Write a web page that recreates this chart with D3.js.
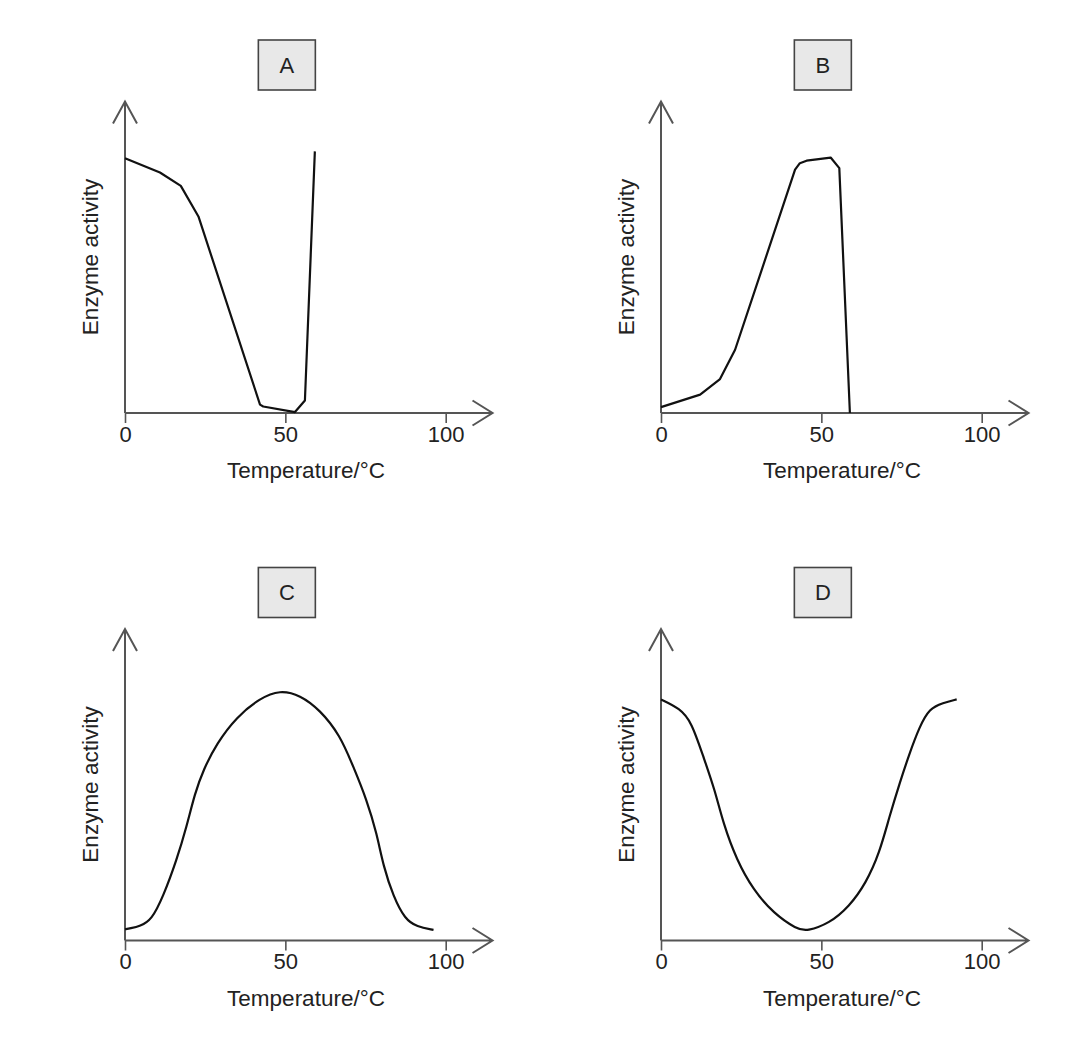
<!DOCTYPE html>
<html>
<head>
<meta charset="utf-8">
<script src="https://cdn.jsdelivr.net/npm/d3@7"></script>
<style>
  body { margin: 0; background: #fff; }
  svg { display: block; font-family: "Liberation Sans", Arial, sans-serif; }
</style>
</head>
<body>
<script>
// values (temperature in °C, activity in arbitrary units 0-100)
const tempA = [0, 10.9, 17.4, 22.9, 42.1, 43.1, 53, 56.1, 59.2];
const actA  = [81.8, 77.2, 72.9, 63.1, 2.7, 2.1, 0.3, 4.0, 84];

const tempB = [0, 12.2, 18.4, 23.1, 41.8, 43.3, 45.4, 52.9, 55.6, 58.9];
const actB  = [1.9, 5.9, 10.9, 20.3, 78.1, 80.2, 81, 82, 78.6, 0];

const tempC = [0, 1.6, 4.7, 8.3, 11.9, 16.1, 19.2, 21.8, 24.4, 28.6, 34.8, 42.1, 48.3, 54.6, 60.8, 67.0, 71.2, 75.4, 78.5, 80.6, 83.7, 87.3, 91, 96.2];
const actC  = [3.6, 3.9, 4.6, 6.6, 14.1, 25.8, 36.5, 47.3, 54.7, 63.3, 71.8, 77.8, 80.4, 78.8, 74, 66, 55.8, 45.1, 34.4, 23.7, 14.1, 6.8, 4.4, 3.4];

const tempD = [0, 5.9, 9.5, 13.2, 16.8, 19.4, 23.6, 28.8, 35.1, 42.4, 45.5, 52.5, 58.7, 63.9, 68.1, 71.2, 74.4, 77.5, 80.6, 83.7, 87.9, 92.2];
const actD  = [77.4, 74.5, 70.2, 59, 48.3, 37.6, 25.8, 16.2, 8.7, 3.6, 3.0, 5.5, 10.9, 18.4, 28, 39.7, 50.5, 60.1, 68.6, 74.5, 76.3, 77.4];

const panelLabels = ["A", "B", "C", "D"];
const xTicks = [0, 50, 100];
const xTitle = "Temperature/°C";
const yTitle = "Enzyme activity";

const width = 1088, height = 1051;

const svg = d3.select("body").append("svg")
  .attr("width", width)
  .attr("height", height)
  .attr("viewBox", [0, 0, width, height]);

// panel origins (where the axes meet)
const panels = [
  {label: panelLabels[0], x0: 125, y0: 413, t: tempA, a: actA, smooth: false},
  {label: panelLabels[1], x0: 661, y0: 413, t: tempB, a: actB, smooth: false},
  {label: panelLabels[2], x0: 125, y0: 940.5, t: tempC, a: actC, smooth: true},
  {label: panelLabels[3], x0: 661, y0: 940.5, t: tempD, a: actD, smooth: true}
];

const axisColor = "#555";
const plotW = 320.7, plotH = 311.5;

panels.forEach(p => {
  const g = svg.append("g").attr("transform", `translate(${p.x0},${p.y0})`);

  const x = d3.scaleLinear().domain([0, 100]).range([0, plotW]);
  const y = d3.scaleLinear().domain([0, 100]).range([0, -plotH]);

  // title box
  const bx = x(50) + 1.5;
  g.append("rect")
    .attr("x", bx - 28.5).attr("y", -373)
    .attr("width", 57).attr("height", 50)
    .attr("fill", "#e8e8e8")
    .attr("stroke", "#444")
    .attr("stroke-width", 1.6);
  g.append("text")
    .attr("x", bx).attr("y", -348)
    .attr("dy", "0.35em")
    .attr("text-anchor", "middle")
    .attr("font-size", 22)
    .attr("fill", "#222")
    .text(p.label);

  // x ticks + labels
  const ax = g.append("g")
    .call(d3.axisBottom(x).tickValues(xTicks).tickSizeInner(10).tickSizeOuter(0).tickPadding(3));
  ax.select(".domain").remove();
  ax.selectAll(".tick line").attr("stroke", axisColor).attr("stroke-width", 1.6);
  ax.selectAll(".tick text")
    .attr("font-size", 22)
    .attr("font-family", "'Liberation Sans', Arial, sans-serif")
    .attr("fill", "#222");

  // axis lines with open arrowheads
  const xEnd = x(114.6);
  const yEnd = y(100);
  g.append("path")
    .attr("d", `M0,0H${xEnd}M${xEnd - 20},-12.5L${xEnd},0L${xEnd - 20},12.5`)
    .attr("fill", "none").attr("stroke", axisColor).attr("stroke-width", 2);
  g.append("path")
    .attr("d", `M0,0V${yEnd}M-12,${yEnd + 22}L0,${yEnd}L12,${yEnd + 22}`)
    .attr("fill", "none").attr("stroke", axisColor).attr("stroke-width", 2);

  // axis titles
  g.append("text")
    .attr("x", 181).attr("y", 65)
    .attr("text-anchor", "middle")
    .attr("font-size", 22.5)
    .attr("fill", "#222")
    .text(xTitle);
  g.append("text")
    .attr("transform", `translate(-27,${-156}) rotate(-90)`)
    .attr("text-anchor", "middle")
    .attr("font-size", 22.5)
    .attr("fill", "#222")
    .text(yTitle);

  // curve: straight segments for A/B, smoothed spline for C/D
  const line = d3.line()
    .x(i => x(p.t[i]))
    .y(i => y(p.a[i]))
    .curve(p.smooth ? d3.curveBasis : d3.curveLinear);
  g.append("path")
    .attr("d", line(d3.range(p.t.length)))
    .attr("fill", "none")
    .attr("stroke", "#111")
    .attr("stroke-width", 2.2)
    .attr("stroke-linejoin", "round");
});
</script>
</body>
</html>
